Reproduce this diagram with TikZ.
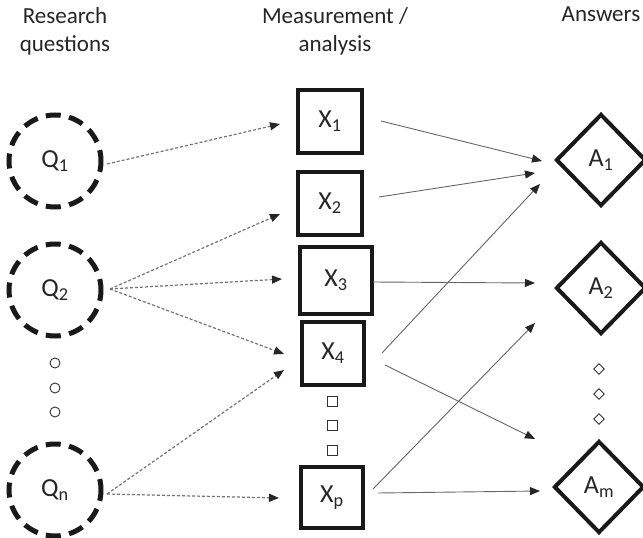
\documentclass[tikz,border=0pt]{standalone}
\usepackage{fontspec}
\setmainfont{Carlito}
\usetikzlibrary{shapes.geometric,arrows.meta,calc}
\newcommand{\sbs}[1]{\textsubscript{#1}}
\begin{document}
\begin{tikzpicture}[x=1pt,y=-1pt,
  lab/.style={font=\fontsize{26}{30}\selectfont,text=black!85},
  qnode/.style={lab,circle,draw=black!90,line width=5pt,dash pattern=on 15pt off 8.5pt,dash phase=4pt,minimum size=92pt,inner sep=0pt},
  xnode/.style={lab,rectangle,draw=black!90,line width=4pt,inner sep=0pt},
  anode/.style={lab,diamond,draw=black!90,line width=4pt,minimum width=90pt,minimum height=92pt,inner sep=0pt},
  sq/.style={rectangle,draw=black!80,line width=0.9pt,minimum size=10pt,inner sep=0pt},
  ci/.style={circle,draw=black!80,line width=0.9pt,minimum size=10pt,inner sep=0pt},
  di/.style={diamond,draw=black!80,line width=0.9pt,minimum size=11pt,inner sep=0pt},
  head/.style={font=\fontsize{23}{28}\selectfont,align=center,text=black!85,anchor=north,inner sep=0pt},
  dotarrow/.style={draw=black!55,line width=1.2pt,dash pattern=on 3pt off 2pt,-{Triangle[length=10pt,width=8pt,color=black!85,fill=black!85]}},
  solarrow/.style={draw=black!60,line width=0.9pt,-{Triangle[length=10pt,width=8pt,color=black!85,fill=black!85]}}
]
\useasboundingbox[fill=white] (0,0) rectangle (643,538);
% headers
\node[head] (h1) at (65,7) {Research\\questions};
\node[head] (h2) at (335,7) {Measurement /\\analysis};
\node[head] (h3) at (601,7) {Answers};
% questions
\node[qnode] (Q1) at (55,161) {Q\sbs{1}};
\node[qnode] (Q2) at (55,290) {Q\sbs{2}};
\node[qnode] (Qn) at (55,490) {Q\sbs{n}};
\node[ci] (c1) at (55,363) {};
\node[ci] (c2) at (55,388) {};
\node[ci] (c3) at (55,412) {};
% measurements
\node[xnode,minimum width=64pt,minimum height=63pt] (X1) at (330,121.5) {X\sbs{1}};
\node[xnode,minimum width=64pt,minimum height=63pt] (X2) at (330,203.5) {X\sbs{2}};
\node[xnode,minimum width=72pt,minimum height=67pt] (X3) at (336,280.5) {X\sbs{3}};
\node[xnode,minimum width=62pt,minimum height=63pt] (X4) at (333,353.5) {X\sbs{4}};
\node[xnode,minimum width=62pt,minimum height=61pt] (Xp) at (332,497.5) {X\sbs{p}};
\node[sq] (s1) at (332,401) {};
\node[sq] (s2) at (332,425) {};
\node[sq] (s3) at (332,450) {};
% answers
\node[anode] (A1) at (601,160) {A\sbs{1}};
\node[anode] (A2) at (601,288) {A\sbs{2}};
\node[anode] (Am) at (599,487) {A\sbs{m}};
\node[di] (d1) at (599,369) {};
\node[di] (d2) at (599,394) {};
\node[di] (d3) at (599,419) {};
% dotted arrows
\draw[dotarrow] ($(Q1)+(52,3)$) -- ($(X1)+(-50,2.5)$);
\draw[dotarrow] ($(Q2)+(55,-1)$) -- ($(X2)+(-50,10.5)$);
\draw[dotarrow] ($(Q2)+(55,-1)$) -- ($(X3)+(-54,-1.5)$);
\draw[dotarrow] ($(Q2)+(55,-1)$) -- ($(X4)+(-49,0.5)$);
\draw[dotarrow] ($(Qn)+(52,4)$) -- ($(X4)+(-49,16.5)$);
\draw[dotarrow] ($(Qn)+(52,4)$) -- ($(Xp)+(-53,0.5)$);
% solid arrows
\draw[solarrow] ($(X1)+(51,-0.5)$) -- ($(A1)+(-59,1)$);
\draw[solarrow] ($(X2)+(49,-6.5)$) -- ($(A1)+(-66,13)$);
\draw[solarrow] ($(X4)+(49,-0.5)$) -- ($(A1)+(-61,24)$);
\draw[solarrow] ($(X3)+(37,1.5)$) -- ($(A2)+(-66,-5)$);
\draw[solarrow] ($(X4)+(52,11.5)$) -- ($(Am)+(-64,-48)$);
\draw[solarrow] ($(Xp)+(41,-8.5)$) -- ($(A2)+(-66,35)$);
\draw[solarrow] ($(Xp)+(46,-4.5)$) -- ($(Am)+(-59,4)$);
\end{tikzpicture}
\end{document}
